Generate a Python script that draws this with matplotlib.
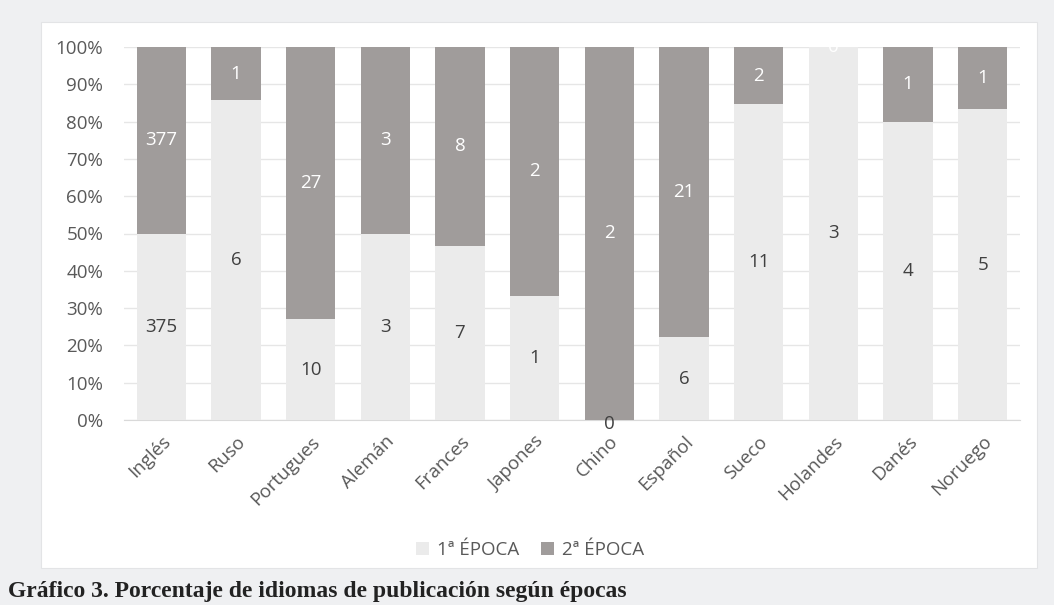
import matplotlib.pyplot as plt
import numpy as np
from matplotlib.patches import Rectangle
from matplotlib.ticker import PercentFormatter

# datos
idiomas = ['Inglés', 'Ruso', 'Portugues', 'Alemán', 'Frances', 'Japones',
           'Chino', 'Español', 'Sueco', 'Holandes', 'Danés', 'Noruego']
epoca1 = [375, 6, 10, 3, 7, 1, 0, 6, 11, 3, 4, 5]
epoca2 = [377, 1, 27, 3, 8, 2, 2, 21, 2, 0, 1, 1]
series = ['1ª ÉPOCA', '2ª ÉPOCA']

c1 = '#ebebeb'
c2 = '#a09c9b'
txt = '#595959'
plt.rcParams['font.family'] = ['Open Sans', 'DejaVu Sans']

fig = plt.figure(figsize=(10.54, 6.05), dpi=100, facecolor='#eff0f2')

# panel blanco del gráfico
fig.patches.append(Rectangle((41 / 1054, 1 - 568 / 605), 996 / 1054, 546 / 605,
                             transform=fig.transFigure, facecolor='white',
                             edgecolor='#e3e4e6', linewidth=0.8, zorder=0))

ax = fig.add_axes([124 / 1054, 1 - 420 / 605, 896 / 1054, 373 / 605])
ax.set_facecolor('none')
ax.set_zorder(2)

e1 = np.array(epoca1, dtype=float)
e2 = np.array(epoca2, dtype=float)
tot = e1 + e2
p1 = e1 / tot * 100
p2 = e2 / tot * 100
x = np.arange(len(idiomas))
w = 0.66

ax.bar(x, p1, w, color=c1, label=series[0], zorder=2)
ax.bar(x, p2, w, bottom=p1, color=c2, label=series[1], zorder=2)

for i in range(len(x)):
    y1 = p1[i] / 2 if epoca1[i] > 0 else -1
    ax.text(x[i], y1, str(epoca1[i]), ha='center', va='center',
            fontsize=13.5, color='#404040', zorder=3, clip_on=False)
    ax.text(x[i], p1[i] + p2[i] / 2, str(epoca2[i]), ha='center', va='center',
            fontsize=13.5, color='white', zorder=3, clip_on=False)

ax.set_xlim(-0.5, len(x) - 0.5)
ax.set_ylim(0, 100)
ax.set_yticks(np.arange(0, 101, 10))
ax.yaxis.set_major_formatter(PercentFormatter(decimals=0))
ax.grid(axis='y', color='#e6e6e6', linewidth=1, zorder=0)
for s in ['top', 'right', 'left']:
    ax.spines[s].set_visible(False)
ax.spines['bottom'].set_color('#d9d9d9')
ax.spines['bottom'].set_zorder(1)
ax.tick_params(axis='both', length=0, labelsize=13.5, labelcolor=txt)
ax.tick_params(axis='y', pad=15)
ax.set_xticks(x)
ax.set_xticklabels(idiomas, rotation=45, ha='right', rotation_mode='anchor')
ax.tick_params(axis='x', pad=9)

ax.legend(loc='center', bbox_to_anchor=(530 / 1054, 1 - 550 / 605),
          bbox_transform=fig.transFigure, ncol=2, frameon=False,
          fontsize=13.5, labelcolor=txt, handlelength=0.7, handleheight=0.7,
          columnspacing=1.2, handletextpad=0.4)

fig.text(8 / 1054, 1 - 591 / 605,
         'Gráfico 3. Porcentaje de idiomas de publicación según épocas',
         fontsize=17, fontweight='bold', family='Liberation Serif',
         color='#222222', va='center', ha='left')

plt.savefig('out.png', dpi=100, facecolor=fig.get_facecolor())
